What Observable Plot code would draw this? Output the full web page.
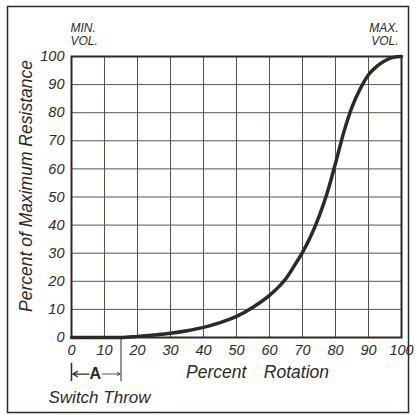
<!DOCTYPE html>
<html>
<head>
<meta charset="utf-8">
<script src="https://cdn.jsdelivr.net/npm/d3@7"></script>
<script src="https://cdn.jsdelivr.net/npm/@observablehq/plot@0.6"></script>
<style>
  html, body { margin: 0; padding: 0; background: #ffffff; }
  #chart { width: 415px; height: 415px; }
</style>
</head>
<body>
<div id="chart"></div>
<script>
// Data (Percent Rotation vs Percent of Maximum Resistance)
const rotation   = [0, 10, 15, 20, 25, 30, 35, 40, 45, 50, 55, 60, 65, 67.5, 70, 72.5, 75, 77.5, 80, 82.5, 85, 87.5, 90, 92.5, 95, 97.5, 100];
const resistance = [0, 0, 0, 0.4, 0.9, 1.5, 2.4, 3.6, 5.3, 7.5, 10.8, 15, 21, 25.5, 30.3, 36, 43, 51.5, 62, 73, 82, 88.5, 93.5, 96.5, 98.5, 99.7, 100];
const xTicks = [0, 10, 20, 30, 40, 50, 60, 70, 80, 90, 100];
const yTicks = [0, 10, 20, 30, 40, 50, 60, 70, 80, 90, 100];
const xLabel = "Percent\u2002\u2002Rotation";
const yLabel = "Percent of Maximum Resistance";
const switchLabel = "Switch Throw";
const switchThrow = 15;           // percent rotation where the switch throw ends
const minLabel = {x: 0, text: "MIN.\nVOL."};
const maxLabel = {x: 100, text: "MAX.\nVOL."};

const data = rotation.map((r, i) => ({x: r, y: resistance[i]}));
const ink = "#2b2b24";

const chart = Plot.plot({
  width: 415,
  height: 415,
  marginLeft: 71,
  marginRight: 14,
  marginTop: 56,
  marginBottom: 78,
  style: {fontFamily: "'Liberation Sans', Arial, sans-serif", fontStyle: "italic", fontSize: "13px", color: ink, background: "#ffffff"},
  x: {domain: [0, 100]},
  y: {domain: [0, 100]},
  marks: [
    // outer border of the figure
    Plot.frame({stroke: ink, strokeWidth: 1.5, insetLeft: -64, insetTop: -50, insetRight: -7, insetBottom: -75}),
    Plot.gridX(xTicks, {stroke: "#55554c", strokeOpacity: 1, strokeWidth: 1}),
    Plot.gridY(yTicks, {stroke: "#55554c", strokeOpacity: 1, strokeWidth: 1}),
    Plot.frame({stroke: ink, strokeWidth: 2}),
    Plot.axisX(xTicks, {tickSize: 0, tickPadding: 7, label: null, fontSize: 14.5, fill: ink}),
    Plot.axisY(yTicks, {tickSize: 0, tickPadding: 7, label: null, fontSize: 14.5, fill: ink}),
    Plot.line(data, {x: "x", y: "y", curve: "monotone-x", stroke: ink, strokeWidth: 3.5}),
    // axis titles
    Plot.text([yLabel], {frameAnchor: "left", textAnchor: "middle", rotate: -90, dx: -45, dy: -11, fontSize: 17.5, fill: ink}),
    Plot.text([xLabel], {frameAnchor: "bottom", textAnchor: "middle", dx: 21, dy: 40, fontSize: 17.5, fill: ink}),
    Plot.text([switchLabel], {frameAnchor: "bottom-left", textAnchor: "start", dx: -23, dy: 65, fontSize: 17, fill: ink}),
    // MIN./MAX. VOL. labels
    Plot.text([minLabel], {x: "x", y: 100, text: "text", textAnchor: "start", lineAnchor: "bottom", dx: -1, dy: -12, fontSize: 12, lineHeight: 1.05, fill: ink}),
    Plot.text([maxLabel], {x: "x", y: 100, text: "text", textAnchor: "end", lineAnchor: "bottom", dx: -3, dy: -12, fontSize: 12, lineHeight: 1.05, fill: ink}),
    // switch throw "A" marker
    Plot.ruleX([switchThrow], {y1: 0, y2: -15.7, stroke: ink, strokeWidth: 1}),
    Plot.ruleX([0], {y1: -9.2, y2: -15.7, stroke: ink, strokeWidth: 1.5}),
    Plot.arrow([{a: 5.3, b: 0.4}], {x1: "a", x2: "b", y1: -13, y2: -13, stroke: ink, strokeWidth: 1.3, headLength: 7, bend: 0}),
    Plot.arrow([{a: 9.3, b: 14.7}], {x1: "a", x2: "b", y1: -13, y2: -13, stroke: ink, strokeWidth: 0.8, headLength: 6, bend: 0}),
    Plot.text(["A"], {x: (switchThrow) * 0.48, y: -13, fontSize: 16, fontWeight: "bold", fontStyle: "normal", fill: ink})
  ]
});
document.getElementById("chart").appendChild(chart);
</script>
</body>
</html>
